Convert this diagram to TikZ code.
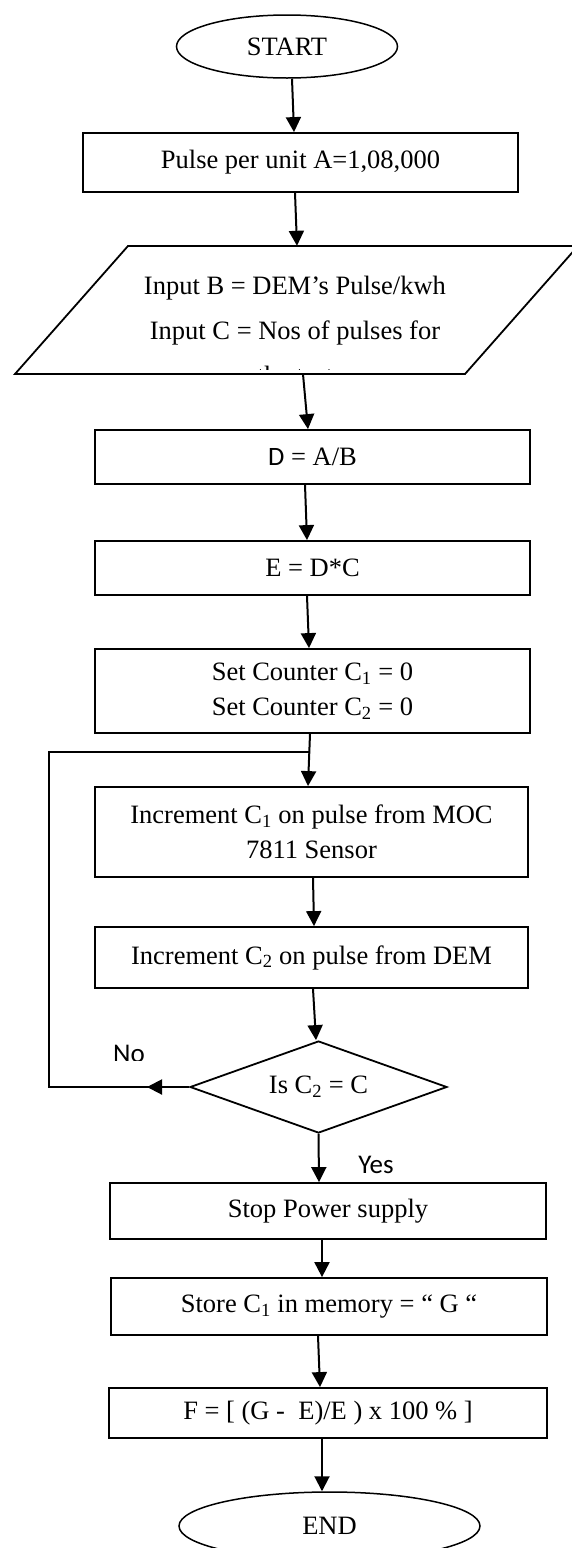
\documentclass[tikz,border=0pt]{standalone}
\usepackage{fontspec}
\setmainfont{Liberation Serif}
\newfontfamily\sansf{Carlito}
\usetikzlibrary{arrows.meta,shapes.geometric}
\tikzset{
  txt/.style={font=\fontsize{26.5}{35}\selectfont},
  flowbox/.style={txt, draw, line width=1.8pt, rectangle, inner sep=0pt, align=center, minimum width=435pt},
  term/.style={txt, draw, ellipse, line width=1.5pt, inner sep=0pt},
  decision/.style={txt, draw, diamond, line width=1.8pt, inner sep=0pt, aspect=2.79},
  flowarrow/.style={line width=2pt, -{Triangle[length=15pt,width=15pt]}},
  flowline/.style={line width=2pt},
  lbl/.style={font=\sansf\fontsize{27}{32}\selectfont, inner sep=0pt}
}
\begin{document}
\begin{tikzpicture}[x=1pt,y=-1pt]
\useasboundingbox[fill=white] (0,0) rectangle (571,1548);

% nodes
\node[term, minimum width=221pt, minimum height=63pt] (start) at (287,46.5) {START};
\node[flowbox, minimum height=59pt] (a) at (300.5,162.5) {Pulse per unit A=1,08,000};

% input parallelogram
\node[inner sep=0pt, minimum width=300pt, minimum height=128pt] (para) at (297,310) {};
\draw[line width=1.8pt] (15,374) -- (128,246) -- (578,246) -- (465,374) -- cycle;
\node[txt, anchor=base] (pl1) at (295,294) {Input B = DEM’s Pulse/kwh};
\node[txt, anchor=base] (pl2) at (295,339) {Input C = Nos of pulses for};
\begin{scope}
  \clip (100,300) rectangle (500,369);
  \node[txt, anchor=base] (pl3) at (295,384) {the test};
\end{scope}

\node[flowbox, minimum height=54pt] (d) at (312.5,457) {{\sansf D} = A/B};
\node[flowbox, minimum height=54pt] (e) at (312.5,568) {E = D*C};
\node[flowbox, minimum height=84pt] (set) at (312.5,691) {Set Counter C\textsubscript{1} = 0\\Set Counter C\textsubscript{2} = 0};
\node[flowbox, minimum width=433pt, minimum height=90pt] (inc1) at (311.5,832) {Increment C\textsubscript{1} on pulse from MOC\\7811 Sensor};
\node[flowbox, minimum width=433pt, minimum height=61pt] (inc2) at (311.5,957.5) {Increment C\textsubscript{2} on pulse from DEM};
\node[decision, minimum width=257pt, minimum height=92pt] (dec) at (318.5,1087) {Is C\textsubscript{2} = C};
\node[flowbox, minimum width=436pt, minimum height=56pt] (stop) at (328,1211) {Stop Power supply};
\node[flowbox, minimum width=436pt, minimum height=57pt] (store) at (329,1306.5) {Store C\textsubscript{1} in memory = “ G “};
\node[flowbox, minimum width=438pt, minimum height=50pt] (f) at (328,1413) {F = [ (G -\ \ E)/E ) x 100 \% ]};
\node[term, minimum width=301pt, minimum height=68pt] (end) at (329.5,1526) {END};

% labels
\begin{scope}
  \clip (100,1030) rectangle (170,1060);
  \node[lbl] (no) at (129,1054) {No};
\end{scope}
\node[lbl] (yes) at (376,1165) {Yes};

% connectors
\draw[flowarrow] ([xshift=5pt]start.south) -- ([xshift=-6.5pt]a.north);
\draw[flowarrow] ([xshift=-5.5pt]a.south) -- (para.north);
\draw[flowarrow] ([xshift=6pt]para.south) -- ([xshift=-4.5pt]d.north);
\draw[flowarrow] ([xshift=-7.5pt]d.south) -- ([xshift=-5.5pt]e.north);
\draw[flowarrow] ([xshift=-5.5pt]e.south) -- ([xshift=-3.5pt]set.north);
\draw[flowarrow] ([xshift=-2.5pt]set.south) -- ([xshift=-3.5pt]inc1.north);
\draw[flowarrow] ([xshift=1.5pt]inc1.south) -- ([xshift=2.5pt]inc2.north);
\draw[flowarrow] ([xshift=1.5pt]inc2.south) -- ([xshift=-2.5pt]dec.north);
\draw[flowarrow] (dec.south) -- ([xshift=-9pt]stop.north);
\draw[flowarrow] ([xshift=-6pt]stop.south) -- ([xshift=-7pt]store.north);
\draw[flowarrow] ([xshift=-11pt]store.south) -- ([xshift=-8pt]f.north);
\draw[flowarrow] ([xshift=-6pt]f.south) -- ([xshift=-7.5pt]end.north);

% loop back (No)
\coordinate (nohead) at (147,1087);
\coordinate (lb) at (49,1087);
\coordinate (lt) at (49,752);
\coordinate (lj) at (309.5,752);
\draw[flowline] (dec.west) -- (lb) -- (lt) -- (lj);
\draw[flowarrow] (dec.west) -- (nohead);
\end{tikzpicture}
\end{document}
